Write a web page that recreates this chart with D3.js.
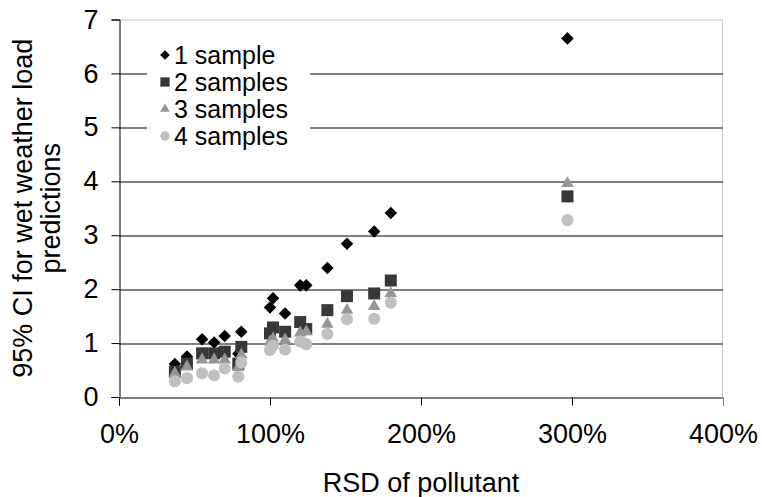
<!DOCTYPE html>
<html>
<head>
<meta charset="utf-8">
<script src="https://cdn.jsdelivr.net/npm/d3@7"></script>
<style>
  body { margin: 0; background: #fff; }
  svg { display: block; font-family: "Liberation Sans", Arial, sans-serif; }
</style>
</head>
<body>
<div id="chart"></div>
<script>
// RSD of pollutant (fraction, 1 = 100%)
var rsd = [0.37, 0.45, 0.55, 0.63, 0.70, 0.79, 0.81, 1.00, 1.02, 1.10, 1.20, 1.24, 1.38, 1.51, 1.69, 1.80, 2.97];

// 95% CI per number of samples
var oneSample   = [0.61, 0.75, 1.07, 1.01, 1.13, 0.80, 1.21, 1.66, 1.83, 1.55, 2.07, 2.07, 2.39, 2.84, 3.07, 3.41, 6.65];
var twoSamples  = [0.47, 0.62, 0.81, 0.81, 0.84, 0.62, 0.93, 1.18, 1.29, 1.21, 1.39, 1.26, 1.61, 1.87, 1.92, 2.16, 3.72];
var threeSamples = [0.44, 0.56, 0.69, 0.69, 0.69, 0.55, 0.78, 1.02, 1.08, 1.06, 1.19, 1.21, 1.35, 1.61, 1.68, 1.92, 3.96];
var fourSamples = [0.29, 0.35, 0.44, 0.40, 0.53, 0.38, 0.64, 0.87, 0.95, 0.88, 1.03, 0.98, 1.17, 1.44, 1.45, 1.75, 3.28];

var seriesNames = ["1 sample", "2 samples", "3 samples", "4 samples"];
var xTicks = [0, 1, 2, 3, 4];
var yTicks = [0, 1, 2, 3, 4, 5, 6, 7];

var W = 762, H = 497;
var FONT = 27;
var margin = { top: 19.5, right: 39, bottom: 100, left: 119 },
  width = W - margin.left - margin.right,
  height = H - margin.top - margin.bottom;

var svg = d3.select("#chart")
  .append("svg")
  .attr("width", W)
  .attr("height", H);

svg.append("rect").attr("width", W).attr("height", H).attr("fill", "#fff");

var g = svg.append("g")
  .attr("transform", "translate(" + margin.left + "," + margin.top + ")");

var x = d3.scaleLinear().domain([0, 4]).range([0, width]);
var y = d3.scaleLinear().domain([0, 7]).range([height, 0]);

// plot area border (light grey top/right)
g.append("line")
  .attr("x1", 0).attr("x2", width)
  .attr("y1", 0.5).attr("y2", 0.5)
  .attr("stroke", "#c8c8c8");
g.append("line")
  .attr("x1", width - 0.5).attr("x2", width - 0.5)
  .attr("y1", 0).attr("y2", height)
  .attr("stroke", "#c8c8c8");

// gridlines
g.append("g")
  .selectAll("line")
  .data(yTicks.filter(function (d) { return d > 0 && d < 7; }))
  .enter()
  .append("line")
  .attr("x1", 0).attr("x2", width)
  .attr("y1", function (d) { return Math.round(y(d)) + 0.5; })
  .attr("y2", function (d) { return Math.round(y(d)) + 0.5; })
  .attr("stroke", "#000");

// y axis
var yAxis = g.append("g")
  .attr("transform", "translate(0.5,0)")
  .call(d3.axisLeft(y).tickValues(yTicks).tickSize(8).tickPadding(13).tickFormat(d3.format("d")));
yAxis.select(".domain").attr("stroke", "#000");
yAxis.selectAll(".tick line").attr("stroke", "#000");
yAxis.selectAll("text")
  .attr("font-size", FONT)
  .attr("font-family", "Liberation Sans, Arial, sans-serif")
  .attr("fill", "#000");

// x axis
var xAxis = g.append("g")
  .attr("transform", "translate(0," + (height + 0.5) + ")")
  .call(d3.axisBottom(x).tickValues(xTicks).tickSize(8).tickPadding(18)
    .tickFormat(function (d) { return (d * 100) + "%"; }));
xAxis.select(".domain").attr("stroke", "#000");
xAxis.selectAll(".tick line").attr("stroke", function (d) { return d === 4 ? "#888" : "#000"; });
xAxis.selectAll("text")
  .attr("font-size", FONT)
  .attr("font-family", "Liberation Sans, Arial, sans-serif")
  .attr("fill", "#000");

// markers
var diamond = d3.symbol().type(d3.symbolDiamond2).size(100);
var square = d3.symbol().type(d3.symbolSquare).size(144);
var triangle = d3.symbol().type(d3.symbolTriangle).size(68);
var circle = d3.symbol().type(d3.symbolCircle).size(115);

var series = [
  { name: seriesNames[0], values: oneSample, shape: diamond, color: "#000000" },
  { name: seriesNames[1], values: twoSamples, shape: square, color: "#383838" },
  { name: seriesNames[2], values: threeSamples, shape: triangle, color: "#969696" },
  { name: seriesNames[3], values: fourSamples, shape: circle, color: "#c0c0c0" }
];

series.forEach(function (s) {
  g.append("g")
    .selectAll("path")
    .data(rsd.map(function (r, i) { return { x: r, y: s.values[i] }; }))
    .enter()
    .append("path")
    .attr("d", s.shape)
    .attr("transform", function (d) { return "translate(" + x(d.x) + "," + y(d.y) + ")"; })
    .attr("fill", s.color);
});

// legend
var legend = svg.append("g").attr("transform", "translate(147,40)");
legend.append("rect")
  .attr("width", 163).attr("height", 112)
  .attr("fill", "#fff");
var item = legend.selectAll(".item")
  .data(series)
  .enter()
  .append("g")
  .attr("class", "item")
  .attr("transform", function (d, i) { return "translate(0," + (15 + i * 27) + ")"; });
item.append("path")
  .attr("d", function (d) {
    return d3.symbol().type(d.shape.type()).size(d.shape.size()() * 0.6)();
  })
  .attr("transform", "translate(18,0)")
  .attr("fill", function (d) { return d.color; });
item.append("text")
  .attr("x", 27)
  .attr("dy", "0.36em")
  .attr("font-size", 25)
  .attr("fill", "#000")
  .text(function (d) { return d.name; });

// axis titles
svg.append("text")
  .attr("x", margin.left + width / 2)
  .attr("y", 492)
  .attr("text-anchor", "middle")
  .attr("font-size", FONT)
  .attr("fill", "#000")
  .text("RSD of pollutant");

var yt = svg.append("text")
  .attr("transform", "translate(32," + (margin.top + height / 2) + ") rotate(-90)")
  .attr("text-anchor", "middle")
  .attr("font-size", FONT)
  .attr("fill", "#000");
yt.append("tspan").attr("x", 0).attr("y", 0).text("95% CI for wet weather load");
yt.append("tspan").attr("x", 0).attr("y", 28).text("predictions");
</script>
</body>
</html>
